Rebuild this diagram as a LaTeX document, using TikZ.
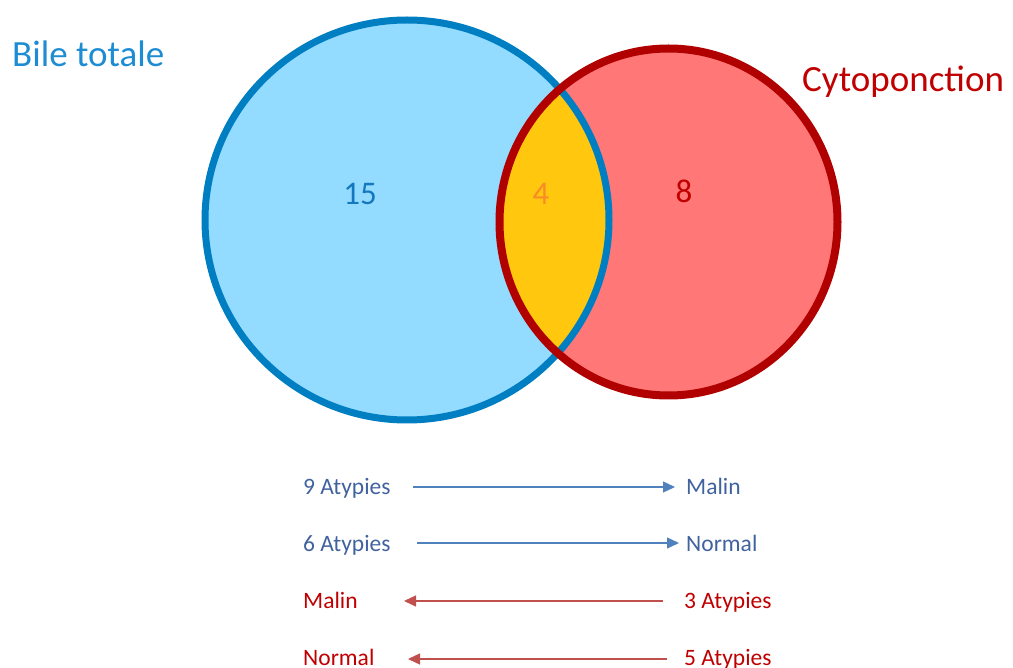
\documentclass[tikz,border=0pt]{standalone}
\usepackage{fontspec}
\setmainfont{Carlito}
\usetikzlibrary{arrows.meta}
\definecolor{bfill}{RGB}{147,219,255}
\definecolor{bline}{RGB}{0,126,194}
\definecolor{rfill}{RGB}{255,119,119}
\definecolor{rline}{RGB}{176,0,0}
\definecolor{lens}{RGB}{255,199,14}
\definecolor{btitle}{RGB}{30,140,210}
\definecolor{rtitle}{RGB}{192,0,0}
\definecolor{bnum}{RGB}{20,120,190}
\definecolor{onum}{RGB}{250,140,40}
\definecolor{rnum}{RGB}{192,0,0}
\definecolor{btext}{RGB}{64,98,158}
\definecolor{barrow}{RGB}{79,129,189}
\definecolor{rtext}{RGB}{192,0,0}
\definecolor{rarrow}{RGB}{192,80,77}
\tikzset{
  title/.style={inner sep=0pt, anchor=base west, font=\fontsize{37}{41}\selectfont},
  num/.style={inner sep=0pt, anchor=base, font=\fontsize{33}{37}\selectfont},
  row/.style={inner sep=0pt, anchor=base west, font=\fontsize{23.5}{27}\selectfont},
  conn/.style={line width=1.3pt, -{Triangle[length=12pt,width=11pt]}},
}
\begin{document}
\begin{tikzpicture}[x=1pt,y=-1pt]
\useasboundingbox (0,0) rectangle (1013,668);
% fills
\fill[bfill] (407,220) ellipse [x radius=202, y radius=200];
\fill[rfill] (668.5,222) ellipse [x radius=169, y radius=173.5];
\begin{scope}
  \clip (407,220) ellipse [x radius=202, y radius=200];
  \fill[lens] (668.5,222) ellipse [x radius=169, y radius=173.5];
\end{scope}
% outlines
\draw[bline, line width=7pt] (407,220) ellipse [x radius=202, y radius=200];
\draw[rline, line width=8pt] (668.5,222) ellipse [x radius=169, y radius=173.5];
% titles
\node[title, text=btitle] (tb) at (12,67) {Bile totale};
\node[title, text=rtitle] (tr) at (802,92) {Cytoponction};
% numbers
\node[num, text=bnum] (n15) at (360,205) {15};
\node[num, text=onum] (n4) at (541,205) {4};
\node[num, text=rnum] (n8) at (684,203) {8};
% rows
\node[row, text=btext] (a9) at (303,494) {9 Atypies};
\node[row, text=btext] (m1) at (686,494) {Malin};
\node[row, text=btext] (a6) at (303,551) {6 Atypies};
\node[row, text=btext] (n1) at (686,551) {Normal};
\node[row, text=rtext] (m2) at (303,608) {Malin};
\node[row, text=rtext] (a3) at (684,608) {3 Atypies};
\node[row, text=rtext] (n2) at (303,665) {Normal};
\node[row, text=rtext] (a5) at (684,665) {5 Atypies};
% connectors
\coordinate (s1) at (413,487); \coordinate (e1) at (675,487);
\coordinate (s2) at (417,543); \coordinate (e2) at (679,543);
\coordinate (s3) at (663,601); \coordinate (e3) at (404,601);
\coordinate (s4) at (667,659); \coordinate (e4) at (408,659);
\draw[conn, barrow] (s1) -- (e1);
\draw[conn, barrow] (s2) -- (e2);
\draw[conn, rarrow] (s3) -- (e3);
\draw[conn, rarrow] (s4) -- (e4);
\end{tikzpicture}
\end{document}
